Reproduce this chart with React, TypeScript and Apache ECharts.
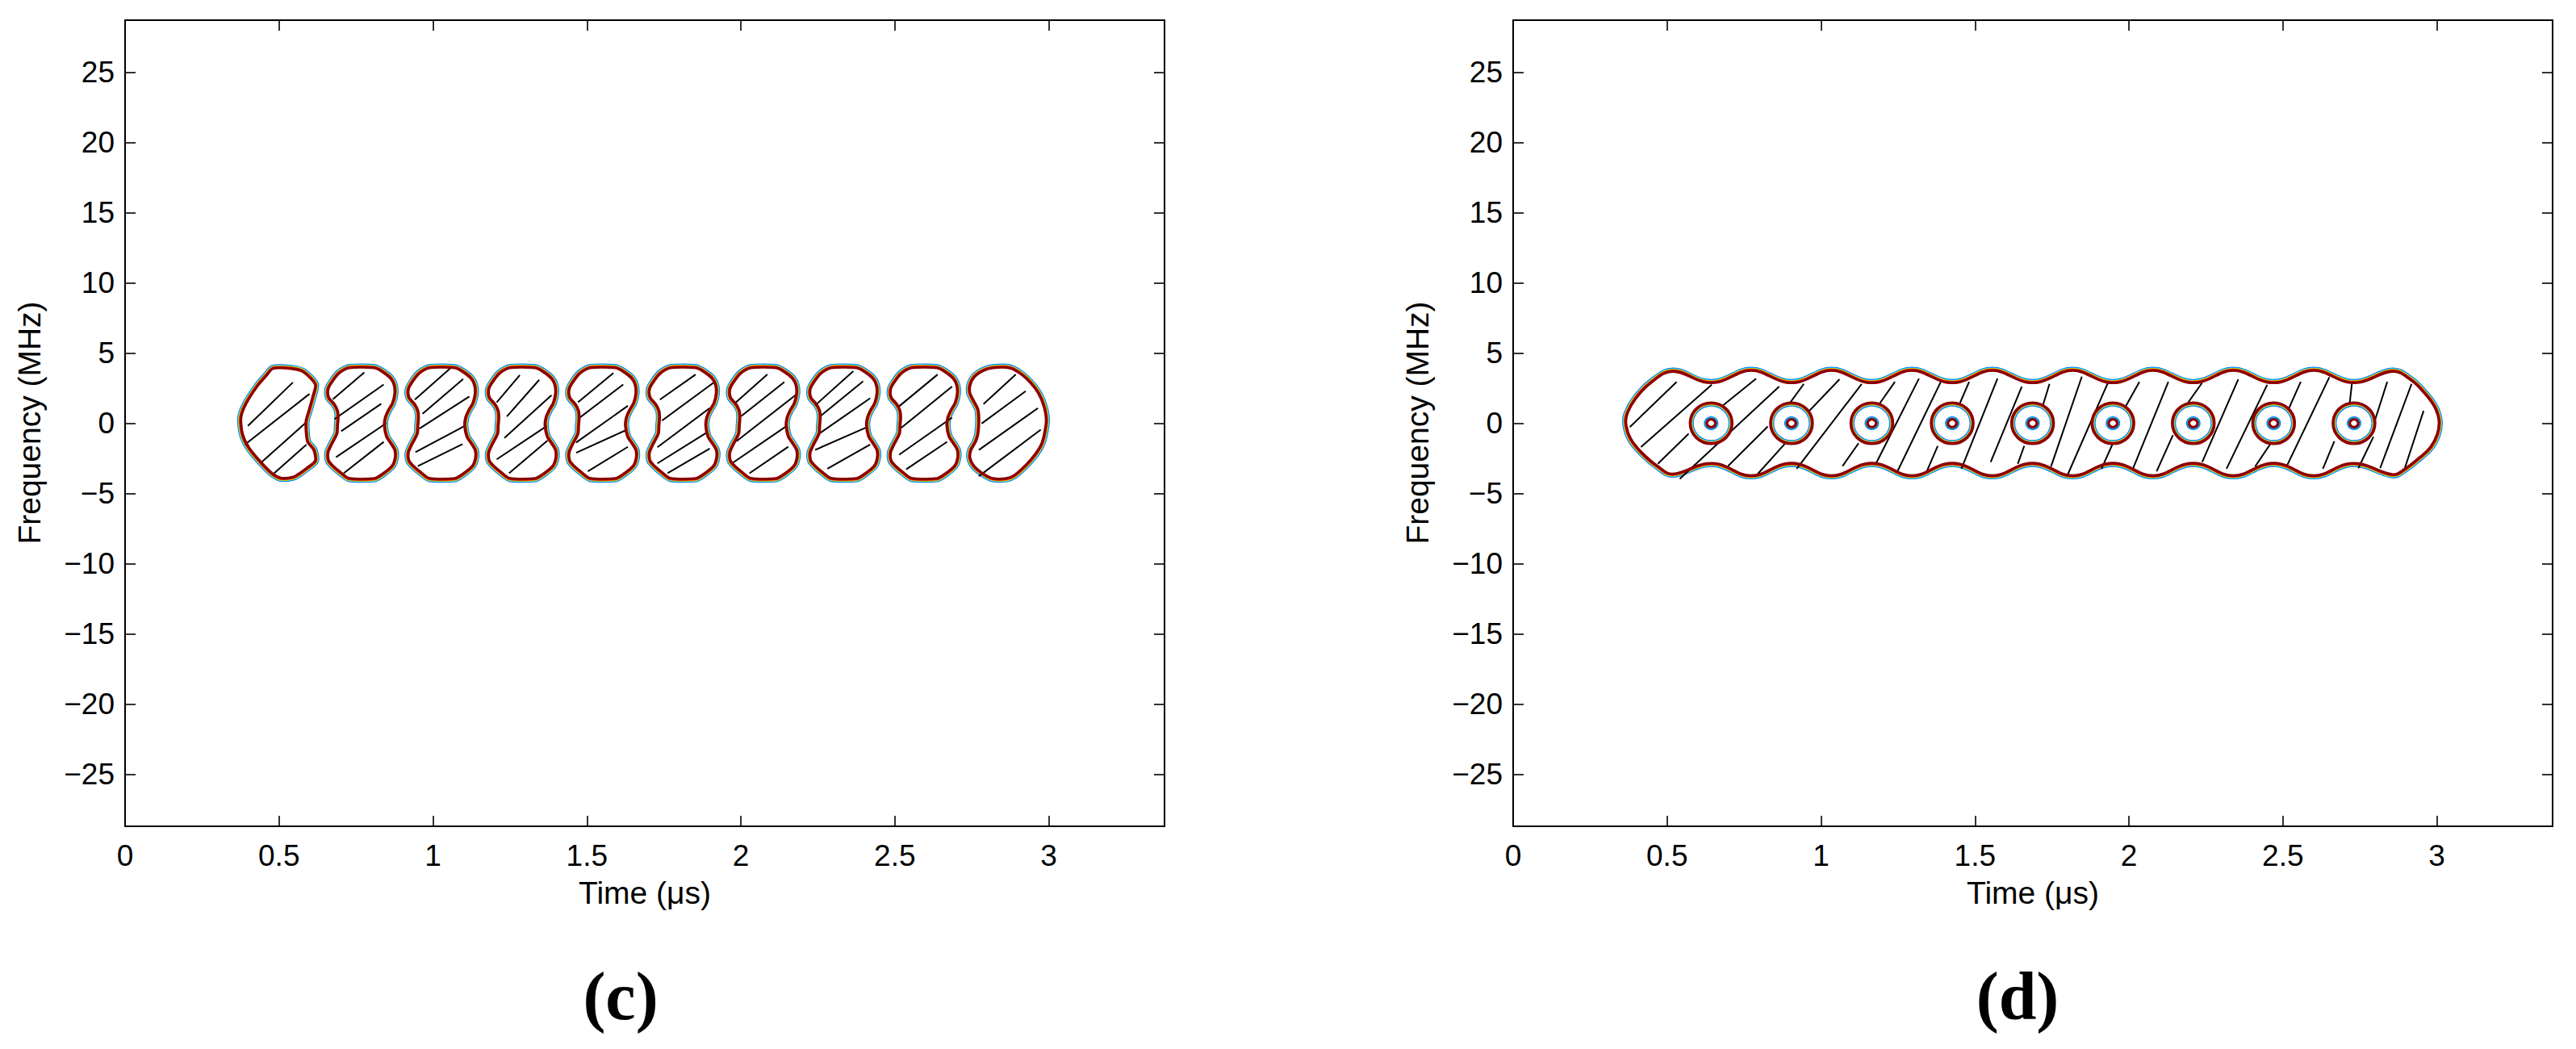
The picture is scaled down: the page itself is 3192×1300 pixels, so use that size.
import React, { useEffect, useRef } from "react";
import * as echarts from "echarts";

// ---------- axes ----------
const X_TICKS = [0, 0.5, 1, 1.5, 2, 2.5, 3];
const Y_TICKS = [-25, -20, -15, -10, -5, 0, 5, 10, 15, 20, 25];
const X_MAX = 3.376;
const Y_MIN = -28.7;
const Y_MAX = 28.7;

// ---------- panel (c): ten separate contour blobs ----------
const C_BLOB_CENTERS = [0.508, 0.769, 1.03, 1.291, 1.552, 1.813, 2.074, 2.335, 2.596, 2.857];

// outlines relative to each blob centre: [dt (µs), f (MHz)]
const C_FIRST_BLOB = [
  [-0.028, 3.9], [0.031, 3.9], [0.071, 3.66], [0.11, 2.76], [0.102, 1.9], [0.09, 0.95],
  [0.08, 0.19], [0.08, -0.57], [0.085, -1.33], [0.105, -1.9], [0.11, -2.67], [0.08, -3.24],
  [0.041, -3.81], [0.001, -3.92], [-0.028, -3.62], [-0.068, -2.76], [-0.107, -1.71],
  [-0.127, -0.76], [-0.132, 0.38], [-0.117, 1.33], [-0.078, 2.67], [-0.048, 3.43],
];
const C_MIDDLE_BLOB = [
  [-0.042, 3.95], [-0.075, 3.56], [-0.099, 2.89], [-0.11, 2.41], [-0.108, 1.84], [-0.09, 1.36],
  [-0.079, 0.88], [-0.077, 0.4], [-0.079, -0.17], [-0.081, -0.75], [-0.101, -1.61], [-0.11, -2.09],
  [-0.108, -2.67], [-0.094, -3.05], [-0.068, -3.53], [-0.042, -3.92], [0.041, -3.94], [0.067, -3.62],
  [0.098, -3.05], [0.108, -2.47], [0.107, -1.9], [0.094, -1.42], [0.08, -0.94], [0.073, -0.17],
  [0.076, 0.4], [0.085, 0.88], [0.1, 1.46], [0.107, 2.13], [0.105, 2.71], [0.094, 3.19],
  [0.067, 3.67], [0.041, 3.95],
];
const C_LAST_BLOB = [
  [-0.038, 3.95], [0.014, 3.95], [0.049, 3.57], [0.084, 2.89], [0.11, 2.13], [0.128, 1.17],
  [0.135, 0.21], [0.129, -0.75], [0.119, -1.51], [0.097, -2.28], [0.066, -3.05], [0.031, -3.72],
  [0.005, -3.94], [-0.038, -3.94], [-0.069, -3.62], [-0.1, -3.05], [-0.113, -2.47], [-0.11, -1.9],
  [-0.095, -1.32], [-0.087, -0.75], [-0.084, 0.21], [-0.087, 0.98], [-0.1, 1.55], [-0.113, 2.13],
  [-0.113, 2.7], [-0.1, 3.28], [-0.069, 3.76],
];

// hatch segments [t1, f1, t2, f2]
const C_HATCH = [
  [0.399, -0.19, 0.545, 2.91], [0.389, -1.52, 0.599, 2.09], [0.444, -2.76, 0.585, 0], [0.484, -3.56, 0.589, -1.52],
  [0.675, 1.71, 0.777, 3.62], [0.68, 0.29, 0.84, 2.76], [0.702, -0.57, 0.832, 1.39], [0.685, -2.42, 0.848, 0], [0.71, -3.56, 0.84, -1.33],
  [0.941, 1.68, 1.056, 3.9], [0.966, 0.67, 1.098, 3.14], [0.956, -0.38, 1.118, 1.9], [0.943, -2.06, 1.103, -0.19], [0.951, -3.05, 1.096, -1.49],
  [1.207, 1.49, 1.282, 3.43], [1.24, 0.48, 1.345, 3.09], [1.232, -1.05, 1.385, 2.0], [1.207, -2.57, 1.37, -0.19], [1.247, -3.56, 1.372, -1.24],
  [1.471, 1.49, 1.586, 3.58], [1.473, 0.34, 1.618, 2.76], [1.465, -1.37, 1.633, 1.24], [1.465, -2.1, 1.623, -0.53], [1.503, -3.43, 1.633, -1.68],
  [1.737, 1.68, 1.853, 3.47], [1.744, 0.19, 1.914, 2.93], [1.729, -1.71, 1.899, 1.08], [1.729, -2.86, 1.89, -0.65], [1.762, -3.56, 1.899, -1.8],
  [1.979, 1.4, 2.086, 3.47], [2.001, 0.5, 2.141, 2.93], [1.986, -1.28, 2.179, 2.03], [1.969, -2.89, 2.144, -0.27], [2.028, -3.56, 2.154, -1.67],
  [2.241, 1.27, 2.365, 3.7], [2.258, 0.5, 2.397, 2.99], [2.248, -0.84, 2.42, 1.78], [2.241, -1.9, 2.411, -0.27], [2.281, -3.24, 2.42, -1.51],
  [2.512, 1.17, 2.639, 3.47], [2.519, -0.36, 2.686, 2.61], [2.514, -2.24, 2.686, 0.4], [2.537, -3.28, 2.67, -1.32],
  [2.788, 1.36, 2.893, 3.47], [2.782, -0.02, 2.925, 2.28], [2.773, -1.9, 2.965, 1.08], [2.773, -3.77, 2.974, -0.46],
];

// ---------- panel (d): one band with nine holes ----------
const D_BAND = [
  [0.518, 3.7], [0.618, 2.95], [0.668, 2.95], [0.773, 3.76], [0.879, 2.95], [0.929, 2.95],
  [1.034, 3.76], [1.14, 2.95], [1.19, 2.95], [1.295, 3.76], [1.401, 2.95], [1.451, 2.95],
  [1.556, 3.76], [1.662, 2.95], [1.712, 2.95], [1.817, 3.76], [1.923, 2.95], [1.973, 2.95],
  [2.078, 3.76], [2.184, 2.95], [2.234, 2.95], [2.339, 3.76], [2.445, 2.95], [2.495, 2.95],
  [2.6, 3.76], [2.706, 2.95], [2.756, 2.95], [2.857, 3.7],
  [2.916, 3.09], [2.961, 2.13], [2.993, 1.17], [3.007, 0.21], [3.002, -0.75], [2.98, -1.7],
  [2.943, -2.47], [2.898, -3.24], [2.857, -3.66],
  [2.756, -2.92], [2.706, -2.92], [2.6, -3.74], [2.495, -2.92], [2.445, -2.92], [2.339, -3.74],
  [2.234, -2.92], [2.184, -2.92], [2.078, -3.74], [1.973, -2.92], [1.923, -2.92], [1.817, -3.74],
  [1.712, -2.92], [1.662, -2.92], [1.556, -3.74], [1.451, -2.92], [1.401, -2.92], [1.295, -3.74],
  [1.19, -2.92], [1.14, -2.92], [1.034, -3.74], [0.929, -2.92], [0.879, -2.92], [0.773, -3.74],
  [0.668, -2.92], [0.618, -2.92], [0.518, -3.62],
  [0.468, -3.05], [0.417, -2.09], [0.382, -1.13], [0.367, -0.17], [0.369, 0.6], [0.397, 1.74], [0.447, 2.89],
];
const D_HOLE_CENTERS = [0.643, 0.904, 1.165, 1.426, 1.687, 1.948, 2.209, 2.47, 2.731];
const D_HOLE_RADIUS = [0.068, 1.45]; // [µs, MHz]
const D_DOT_RADIUS = [0.014, 0.28];
const D_HATCH = [
  [0.379, -0.27, 0.531, 2.95], [0.415, -1.7, 0.645, 2.74], [0.47, -2.89, 0.57, -0.75], [0.665, 0.98, 0.789, 3.18],
  [0.541, -3.96, 0.864, 2.61], [0.874, 0.69, 0.944, 2.8], [0.937, 0.31, 1.06, 3.13], [0.698, -3.05, 0.827, -0.23],
  [0.794, -3.62, 0.882, -1.47], [0.921, -3.24, 1.132, 2.8], [1.178, 1.02, 1.24, 2.95], [1.07, -3.05, 1.122, -1.42],
  [1.178, -2.89, 1.318, 3.18], [1.248, -3.43, 1.389, 2.95], [1.443, 1.02, 1.481, 2.95], [1.341, -3.56, 1.379, -1.61],
  [1.456, -3.24, 1.573, 3.18], [1.551, -2.76, 1.652, 2.61], [1.717, 1.02, 1.742, 2.8], [1.639, -2.89, 1.66, -1.61],
  [1.747, -3.08, 1.847, 3.32], [1.8, -3.72, 1.932, 2.9], [1.98, 0.83, 2.034, 2.95], [1.911, -3.24, 1.95, -1.32],
  [2.013, -3.24, 2.128, 2.95], [2.167, 0.69, 2.237, 2.86], [2.09, -3.43, 2.143, -0.84], [2.238, -2.76, 2.355, 3.13],
  [2.317, -3.24, 2.449, 2.74], [2.41, -3.08, 2.464, -1.32], [2.52, 1.08, 2.558, 2.95], [2.512, -3.08, 2.651, 3.28],
  [2.716, 1.21, 2.724, 2.8], [2.63, -3.24, 2.667, -1.28], [2.794, -0.13, 2.839, 2.95], [2.745, -3.2, 2.794, -0.97],
  [2.816, -3.2, 2.918, 2.8], [2.896, -3.2, 2.957, 0.88],
];

// ---------- styling ----------
const FRINGE = [
  { c: "#0064ff", w: 9 },
  { c: "#00d0ff", w: 7.6 },
  { c: "#e4e400", w: 6.2 },
  { c: "#ff6400", w: 5 },
];
const DARK = "#8c0000";
const SANS = "'Liberation Sans', Arial, Helvetica, sans-serif";
const SERIF = "'Liberation Serif', 'Times New Roman', serif";

function underShape(points: number[][], smooth: number) {
  const children: any[] = FRINGE.map((fr) => ({
    type: "polygon",
    shape: { points, smooth },
    style: { fill: "none", stroke: fr.c, lineWidth: fr.w, lineJoin: "round" },
  }));
  children.push({ type: "polygon", shape: { points, smooth }, style: { fill: "#ffffff", stroke: "none" } });
  return { type: "group", children };
}
function edgeShape(points: number[][], smooth: number) {
  return {
    type: "polygon",
    shape: { points, smooth },
    style: { fill: "none", stroke: DARK, lineWidth: 3.6, lineJoin: "round" },
  };
}
const cTemplate = (i: number) =>
  i === 0 ? C_FIRST_BLOB : i === C_BLOB_CENTERS.length - 1 ? C_LAST_BLOB : C_MIDDLE_BLOB;

function App() {
  const ref = useRef<HTMLDivElement>(null);
  useEffect(() => {
    if (!ref.current) return;
    const chart = echarts.init(ref.current, null, { renderer: "svg" });

    const grids = [
      { left: 155, top: 25, width: 1288, height: 999, outerBoundsMode: "none" },
      { left: 1875, top: 25, width: 1288, height: 999, outerBoundsMode: "none" },
    ];
    const axisLine = { show: true, onZero: false, lineStyle: { color: "#000", width: 2 } };
    const tick = (vals: number[]) => ({
      show: true, inside: true, length: 13, customValues: vals, lineStyle: { color: "#000", width: 1.6 },
    });
    const xAxes: any[] = [];
    const yAxes: any[] = [];
    [0, 1].forEach((g) => {
      xAxes.push({
        type: "value", gridIndex: g, position: "bottom", min: 0, max: X_MAX,
        axisLine, axisTick: tick(X_TICKS), splitLine: { show: false },
        axisLabel: {
          show: true, customValues: X_TICKS, margin: 18, color: "#000",
          fontSize: 37, lineHeight: 37, fontFamily: SANS, formatter: (v: number) => String(v),
        },
      });
      xAxes.push({
        type: "value", gridIndex: g, position: "top", min: 0, max: X_MAX,
        axisLine, axisTick: tick(X_TICKS), splitLine: { show: false }, axisLabel: { show: false },
      });
      yAxes.push({
        type: "value", gridIndex: g, position: "left", min: Y_MIN, max: Y_MAX,
        axisLine, axisTick: tick(Y_TICKS), splitLine: { show: false },
        axisLabel: {
          show: true, customValues: Y_TICKS, margin: 13, color: "#000",
          fontSize: 37, fontFamily: SANS, formatter: (v: number) => String(v).replace("-", "\u2212"),
        },
      });
      yAxes.push({
        type: "value", gridIndex: g, position: "right", min: Y_MIN, max: Y_MAX,
        axisLine, axisTick: tick(Y_TICKS), splitLine: { show: false }, axisLabel: { show: false },
      });
    });

    const hatchSeries = (data: number[][], xi: number, yi: number) => ({
      type: "custom", xAxisIndex: xi, yAxisIndex: yi, z: 3, silent: true,
      data, encode: { x: [0, 2], y: [1, 3] },
      renderItem: (_p: any, api: any) => {
        const a = api.coord([api.value(0), api.value(1)]);
        const b = api.coord([api.value(2), api.value(3)]);
        return {
          type: "line",
          shape: { x1: a[0], y1: a[1], x2: b[0], y2: b[1] },
          style: { stroke: "#000", lineWidth: 2, lineCap: "butt" },
        };
      },
    });

    const cData = C_BLOB_CENTERS.map((c) => [c, 0]);
    const cPoints = (p: any, api: any) => {
      const c = api.value(0);
      return cTemplate(p.dataIndex).map(([dt, f]) => api.coord([c + dt, f]));
    };
    const bandPoints = (api: any) => D_BAND.map(([t, f]) => api.coord([t, f]));

    const series: any[] = [
      {
        type: "custom", xAxisIndex: 0, yAxisIndex: 0, z: 2, silent: true, data: cData,
        renderItem: (p: any, api: any) => underShape(cPoints(p, api), 0.25),
      },
      hatchSeries(C_HATCH, 0, 0),
      {
        type: "custom", xAxisIndex: 0, yAxisIndex: 0, z: 4, silent: true, data: cData,
        renderItem: (p: any, api: any) => edgeShape(cPoints(p, api), 0.25),
      },
      {
        type: "custom", xAxisIndex: 2, yAxisIndex: 2, z: 2, silent: true, data: [[1.5, 0]],
        renderItem: (_p: any, api: any) => underShape(bandPoints(api), 0.4),
      },
      hatchSeries(D_HATCH, 2, 2),
      {
        type: "custom", xAxisIndex: 2, yAxisIndex: 2, z: 4, silent: true, data: [[1.5, 0]],
        renderItem: (_p: any, api: any) => edgeShape(bandPoints(api), 0.4),
      },
      {
        type: "custom", xAxisIndex: 2, yAxisIndex: 2, z: 5, silent: true,
        data: D_HOLE_CENTERS.map((t) => [t, 0]),
        renderItem: (_p: any, api: any) => {
          const [cx, cy] = api.coord([api.value(0), api.value(1)]);
          const rx = api.size([D_HOLE_RADIUS[0], 0])[0];
          const ry = api.size([0, D_HOLE_RADIUS[1]])[1];
          const dx = api.size([D_DOT_RADIUS[0], 0])[0];
          const dy = api.size([0, D_DOT_RADIUS[1]])[1];
          const ell = (a: number, b: number, style: any) => ({
            type: "ellipse", shape: { cx, cy, rx: Math.max(a, 0.6), ry: Math.max(b, 0.6) }, style,
          });
          return {
            type: "group",
            children: [
              ell(rx, ry, { fill: "#ff6400" }),
              ell(rx - 2.2, ry - 2.2, { fill: "#e4e400" }),
              ell(rx - 2.9, ry - 2.9, { fill: "#00d0ff" }),
              ell(rx - 3.6, ry - 3.6, { fill: "#0064ff" }),
              ell(rx - 4.4, ry - 4.4, { fill: "#ffffff" }),
              ell(rx, ry, { fill: "none", stroke: DARK, lineWidth: 3.6 }),
              ell(dx + 3.6, dy + 3.6, { fill: "#0064ff" }),
              ell(dx + 2.6, dy + 2.6, { fill: "#00d0ff" }),
              ell(dx + 1.7, dy + 1.7, { fill: DARK }),
              ell(dx - 1.7, dy - 1.7, { fill: "#ffffff" }),
            ],
          };
        },
      },
    ];

    const txt = (text: string, x: number, y: number, size: number, family: string, weight = "normal", rotation = 0) => ({
      type: "text", x, y, rotation, silent: true,
      style: {
        text, fill: "#000", fontSize: size, fontFamily: family, fontWeight: weight,
        align: "center", verticalAlign: "middle",
      },
    });

    chart.setOption({
      animation: false,
      backgroundColor: "#ffffff",
      grid: grids,
      xAxis: xAxes,
      yAxis: yAxes,
      series,
      graphic: {
        elements: [
          txt("Time (\u03bcs)", 799, 1106, 39, SANS),
          txt("Time (\u03bcs)", 2519, 1106, 39, SANS),
          txt("Frequency (MHz)", 36, 524, 39, SANS, "normal", Math.PI / 2),
          txt("Frequency (MHz)", 1756, 524, 39, SANS, "normal", Math.PI / 2),
          txt("(c)", 769, 1234, 84, SERIF, "bold"),
          txt("(d)", 2500, 1234, 84, SERIF, "bold"),
        ],
      },
    });
    return () => chart.dispose();
  }, []);
  return (
    <div
      ref={ref}
      style={{ position: "absolute", left: 0, top: 0, width: 3192, height: 1300, background: "#fff" }}
    />
  );
}

export default App;
